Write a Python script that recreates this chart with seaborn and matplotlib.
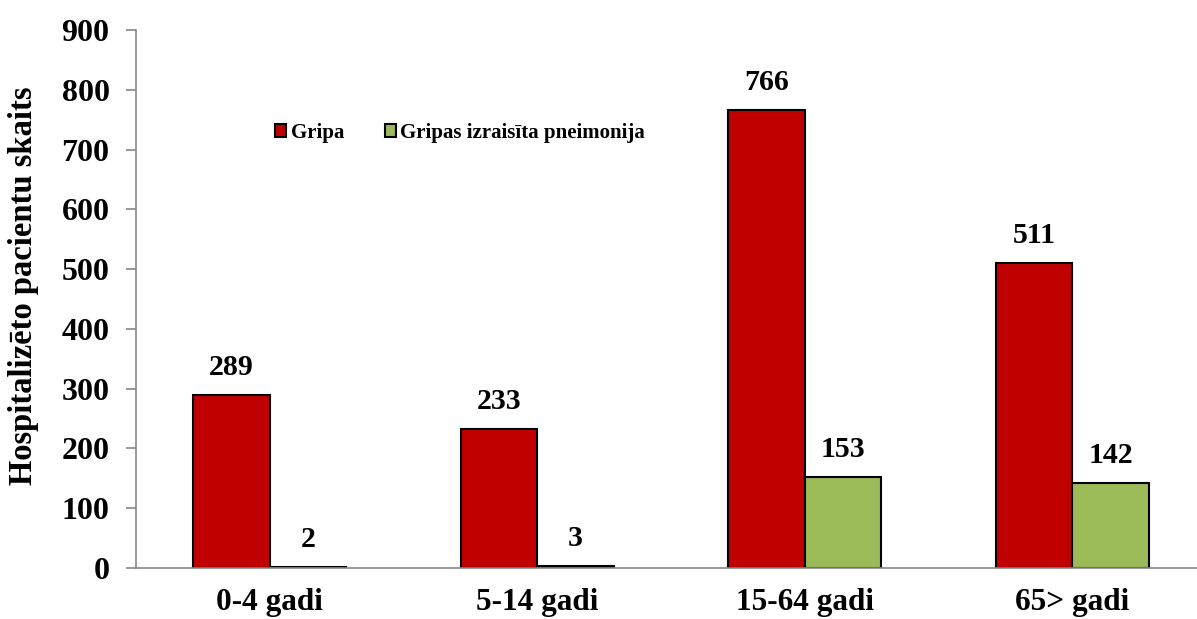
import matplotlib
matplotlib.use("Agg")
import matplotlib.pyplot as plt
import seaborn as sns
import pandas as pd
from matplotlib.ticker import FixedLocator

categories = ["0-4 gadi", "5-14 gadi", "15-64 gadi", "65> gadi"]
series_names = ["Gripa", "Gripas izraisīta pneimonija"]
gripa = [289, 233, 766, 511]
pneimonija = [2, 3, 153, 142]
y_ticks = [0, 100, 200, 300, 400, 500, 600, 700, 800, 900]
colors = ["#C00000", "#9BBB59"]

df = pd.DataFrame({
    "cat": categories * 2,
    "series": [series_names[0]] * 4 + [series_names[1]] * 4,
    "value": gripa + pneimonija,
})

sns.set_theme(style="white")
plt.rcParams["font.family"] = ["Liberation Serif", "DejaVu Serif"]
plt.rcParams["font.weight"] = "bold"
plt.rcParams["text.color"] = "black"
plt.rcParams["axes.labelcolor"] = "black"
plt.rcParams["xtick.color"] = "black"
plt.rcParams["ytick.color"] = "black"

fig = plt.figure(figsize=(11.97, 6.19), dpi=100)
W, H = 1197, 619
left, right, top, bottom = 136, 1206, 30, 568
ax = fig.add_axes([left / W, 1 - bottom / H, (right - left) / W, (bottom - top) / H])

sns.barplot(data=df, x="cat", y="value", hue="series", palette=colors,
            width=0.572, edgecolor="black", linewidth=1.5, ax=ax, saturation=1)

for cont in ax.containers:
    ax.bar_label(cont, padding=10, fontsize=21.5, fontweight="bold",
                 fontfamily="Liberation Serif", color="black")

ax.set_xlim(-0.5, 3.5)
ax.set_ylim(0, 900)
ax.set_yticks(y_ticks)
ax.set_yticklabels([str(t) for t in y_ticks], fontsize=23, fontweight="bold")
ax.set_xticks(range(len(categories)))
ax.set_xticklabels(categories, fontsize=22.5, fontweight="bold")
ax.xaxis.set_minor_locator(FixedLocator([-0.5, 0.5, 1.5, 2.5]))
ax.tick_params(axis="x", which="major", length=0, pad=14.5, labelcolor="black")
ax.tick_params(axis="x", which="minor", length=7, color="#888888", width=1.2, direction="out")
ax.tick_params(axis="y", length=7, color="#888888", width=1.2, direction="out", pad=12,
               left=True, labelcolor="black")
ax.set_xlabel("")
ax.set_ylabel("Hospitalizēto pacientu skaits", fontsize=23.5, fontweight="bold", color="black")
ax.yaxis.set_label_coords((39 - left) / (right - left), 1 - (286 - top) / (bottom - top))

for s in ["top", "right"]:
    ax.spines[s].set_visible(False)
for s in ["left", "bottom"]:
    ax.spines[s].set_color("#888888")
    ax.spines[s].set_linewidth(1.2)

leg = ax.legend(loc="center left",
                bbox_to_anchor=((275 - left) / (right - left), 1 - (133 - top) / (bottom - top)),
                ncol=2, frameon=False, handlelength=0.55, handleheight=0.55,
                handletextpad=0.2, columnspacing=1.95, borderpad=0, borderaxespad=0,
                prop={"family": "Liberation Serif", "weight": "bold", "size": 15})
for t in leg.get_texts():
    t.set_color("black")
ax.grid(False)

fig.savefig("out.png", dpi=100)
